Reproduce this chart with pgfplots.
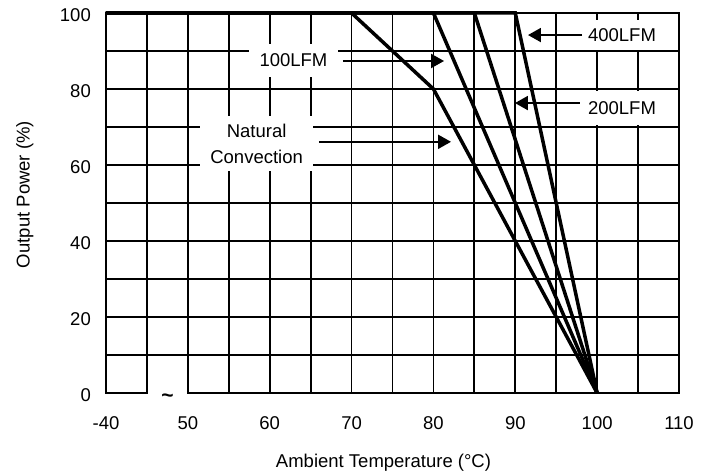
\documentclass[border=0pt]{standalone}
\usepackage{fontspec}
\setmainfont{Liberation Sans}
\usepackage{pgfplots}
\pgfplotsset{compat=1.18}
\usetikzlibrary{arrows.meta}
\newcommand{\fs}{\fontsize{18.5bp}{26bp}\selectfont}

\begin{document}
\begin{tikzpicture}[font=\fs]
\useasboundingbox (-106bp,-79bp) rectangle (608bp,393bp);
\begin{axis}[
  scale only axis, width=573bp, height=380bp,
  xmin=40, xmax=110, ymin=0, ymax=100,
  xtick={40,50,...,110},
  xticklabels={-40,50,60,70,80,90,100,110},
  minor xtick={45,55,...,105},
  ytick={0,20,...,100},
  minor ytick={10,30,...,90},
  grid=both,
  major grid style={black, line width=1.8bp},
  minor grid style={black, line width=1.8bp},
  axis line style={black, line width=2bp},
  major tick length=0pt, minor tick length=0pt,
  tick label style={font=\fs},
  label style={font=\fs},
  /pgf/number format/assume math mode=true,
  x tick label style={anchor=base, inner sep=0pt, yshift=-36bp},
  y tick label style={anchor=east, inner sep=0pt, xshift=-15bp, yshift=-2.5bp},
  every axis x label/.style={at={(axis description cs:0.4843,0)}, anchor=base, yshift=-74bp},
  every axis y label/.style={at={(axis description cs:-0.1335,0.5224)}, rotate=90, anchor=base},
  xlabel={Ambient Temperature (°C)},
  ylabel={Output Power (\%)},
  clip=false,
]
% derating curves
\addplot[black, line width=3.5bp] coordinates {(40,100) (70,100) (80,80) (100,0)};
\addplot[black, line width=3.5bp] coordinates {(40,100) (80,100) (100,0)};
\addplot[black, line width=3.5bp] coordinates {(40,100) (85,100) (100,0)};
\addplot[black, line width=3.5bp] coordinates {(40,100) (90,100) (100,0)};

% labels
\node[fill=white, inner xsep=10.5bp, inner ysep=10bp] at (axis cs:62.9,87.6) {100LFM};
\node[fill=white, inner xsep=8.5bp, inner ysep=8bp] at (axis cs:103.04,94.2) {400LFM};
\node[fill=white, inner xsep=8.5bp, inner ysep=10bp] at (axis cs:103.04,75.0) {200LFM};
\node[fill=white, align=center, inner xsep=10bp, inner ysep=8bp] at (axis cs:58.4,65.66) {Natural\\Convection};

\draw[line width=2bp, -{Triangle[length=13bp,width=14bp]}] (axis cs:68.95,87.37) -- (axis cs:81.3,87.37);
\draw[line width=2bp, -{Triangle[length=13bp,width=14bp]}] (axis cs:98.15,94.2) -- (axis cs:91.55,94.2);
\draw[line width=2bp, -{Triangle[length=13bp,width=14bp]}] (axis cs:97.9,76.3) -- (axis cs:89.96,76.3);
\draw[line width=2bp, -{Triangle[length=13bp,width=14bp]}] (axis cs:66.0,66.1) -- (axis cs:82.15,66.1);

\coordinate (b1) at (axis cs:45.15,0);
\coordinate (b2) at (axis cs:49.85,0);
\coordinate (bm) at (axis cs:47.5,-1.3);
\end{axis}
% axis break
\draw[white, line width=4bp] (b1) -- (b2);
\node[inner sep=0pt] at (bm) {\bfseries\fontsize{21bp}{21bp}\selectfont\textasciitilde};
\end{tikzpicture}
\end{document}
